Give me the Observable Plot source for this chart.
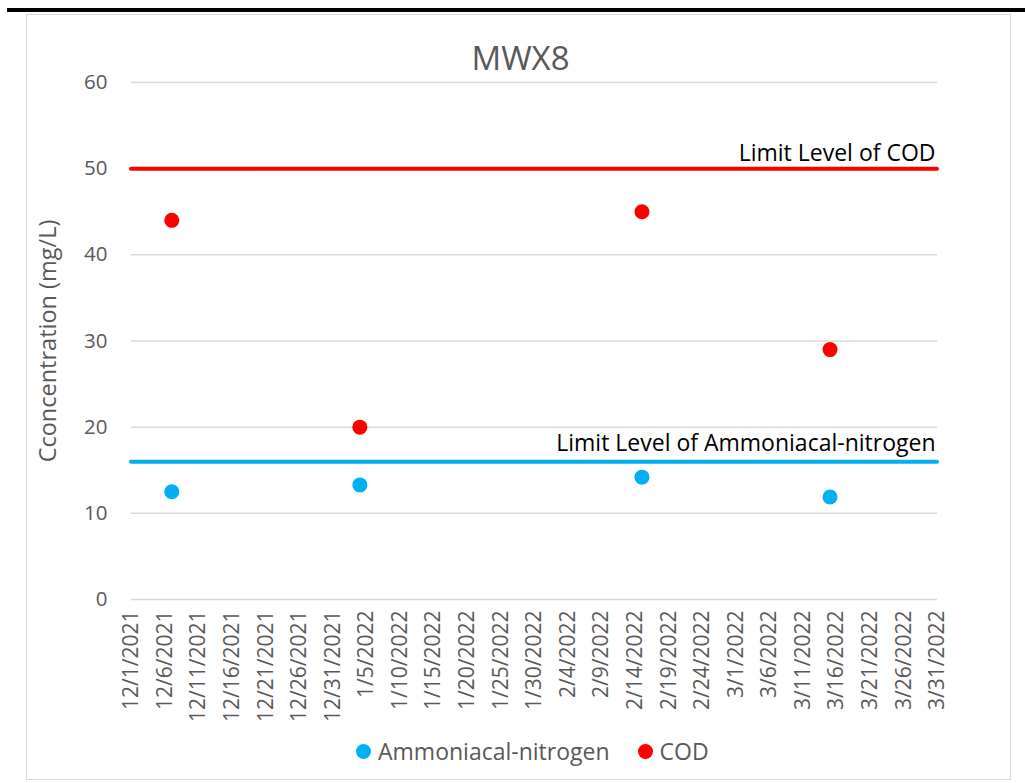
<!DOCTYPE html>
<html>
<head>
<meta charset="utf-8">
<script src="https://cdn.jsdelivr.net/npm/d3@7"></script>
<script src="https://cdn.jsdelivr.net/npm/@observablehq/plot@0.6"></script>
<style>
  html, body { margin: 0; padding: 0; background: #fff; }
  #page { position: relative; width: 1025px; height: 783px; overflow: hidden; font-family: "Open Sans", sans-serif; }
  #bar { position: absolute; left: 7px; top: 8px; width: 1018px; height: 4px; background: #000; }
  #frame { position: absolute; left: 26px; top: 14px; width: 985px; height: 766px; border: 1.5px solid #d9d9d9; box-sizing: border-box; }
  #chart { position: absolute; left: 0; top: 0; }
  #legend { position: absolute; left: 356px; top: 736px; height: 30px; display: flex; align-items: center; color: #595959; font-size: 23px; }
  .item { display: flex; align-items: center; margin-right: 28px; }
  .dot { width: 15px; height: 15px; border-radius: 50%; margin-right: 7px; }
</style>
</head>
<body>
<div id="page">
  <div id="bar"></div>
  <div id="frame"></div>
  <div id="chart"></div>
  <div id="legend"></div>
</div>
<script>
// ---- data ----
const title = "MWX8";
const yLabel = "Cconcentration (mg/L)";
const sampleDates = ["2021-12-07", "2022-01-04", "2022-02-15", "2022-03-15"];
const ammoniaValues = [12.5, 13.3, 14.2, 11.9];
const codValues = [44, 20, 45, 29];
const seriesNames = ["Ammoniacal-nitrogen", "COD"];
const seriesColors = ["#00B0F0", "#FF0000"];
const codLimit = 50;
const ammoniaLimit = 16;
const limitLabels = ["Limit Level of COD", "Limit Level of Ammoniacal-nitrogen"];
const yTicks = [0, 10, 20, 30, 40, 50, 60];
const xTickLabels = ["12/1/2021","12/6/2021","12/11/2021","12/16/2021","12/21/2021","12/26/2021","12/31/2021",
  "1/5/2022","1/10/2022","1/15/2022","1/20/2022","1/25/2022","1/30/2022","2/4/2022","2/9/2022","2/14/2022",
  "2/19/2022","2/24/2022","3/1/2022","3/6/2022","3/11/2022","3/16/2022","3/21/2022","3/26/2022","3/31/2022"];

// ---- build ----
const parseMDY = s => { const [m, d, y] = s.split("/").map(Number); return new Date(Date.UTC(y, m - 1, d)); };
const xTicks = xTickLabels.map(parseMDY);
const fmt = d => `${d.getUTCMonth() + 1}/${d.getUTCDate()}/${d.getUTCFullYear()}`;
const parseISO = s => new Date(s + "T00:00:00Z");

const points = [];
sampleDates.forEach((s, i) => {
  points.push({date: parseISO(s), value: ammoniaValues[i], series: seriesNames[0]});
  points.push({date: parseISO(s), value: codValues[i], series: seriesNames[1]});
});
const xDomain = [xTicks[0], xTicks[xTicks.length - 1]];

const chart = Plot.plot({
  width: 1025,
  height: 783,
  marginLeft: 131,
  marginRight: 88,
  marginTop: 82,
  marginBottom: 184,
  style: {fontFamily: "Open Sans, sans-serif", background: "transparent", overflow: "visible"},
  x: {type: "utc", domain: xDomain},
  y: {domain: [0, 60]},
  color: {domain: seriesNames, range: seriesColors},
  marks: [
    Plot.gridY(yTicks, {stroke: "#d9d9d9", strokeOpacity: 1, strokeWidth: 1.5}),
    Plot.axisY({ticks: yTicks, tickSize: 0, tickPadding: 24, fontSize: 20.5, color: "#595959", label: null}),
    Plot.axisX({ticks: xTicks, tickFormat: fmt, tickRotate: -90, tickSize: 0, tickPadding: 11, fontSize: 21, color: "#595959", label: null}),
    Plot.ruleY([codLimit], {stroke: seriesColors[1], strokeWidth: 4, strokeLinecap: "round"}),
    Plot.ruleY([ammoniaLimit], {stroke: seriesColors[0], strokeWidth: 4, strokeLinecap: "round"}),
    Plot.text([limitLabels[0]], {x: xDomain[1], y: codLimit, text: d => d, textAnchor: "end", lineAnchor: "bottom", dx: -2, dy: -8, fontSize: 23, fill: "#000"}),
    Plot.text([limitLabels[1]], {x: xDomain[1], y: ammoniaLimit, text: d => d, textAnchor: "end", lineAnchor: "bottom", dx: -2, dy: -11, fontSize: 23, fill: "#000"}),
    Plot.dot(points, {x: "date", y: "value", fill: "series", r: 7.5}),
    Plot.text([title], {frameAnchor: "top", text: d => d, lineAnchor: "bottom", dy: -13, dx: -14, fontSize: 33, fill: "#595959"}),
    Plot.text([yLabel], {frameAnchor: "left", text: d => d, rotate: -90, textAnchor: "middle", lineAnchor: "middle", dx: -83, fontSize: 23.5, fill: "#595959"})
  ]
});
document.getElementById("chart").appendChild(chart);

// legend
const legend = document.getElementById("legend");
seriesNames.forEach((name, i) => {
  const item = document.createElement("div");
  item.className = "item";
  const dot = document.createElement("span");
  dot.className = "dot";
  dot.style.background = seriesColors[i];
  const label = document.createElement("span");
  label.textContent = name;
  item.appendChild(dot);
  item.appendChild(label);
  legend.appendChild(item);
});
</script>
</body>
</html>
